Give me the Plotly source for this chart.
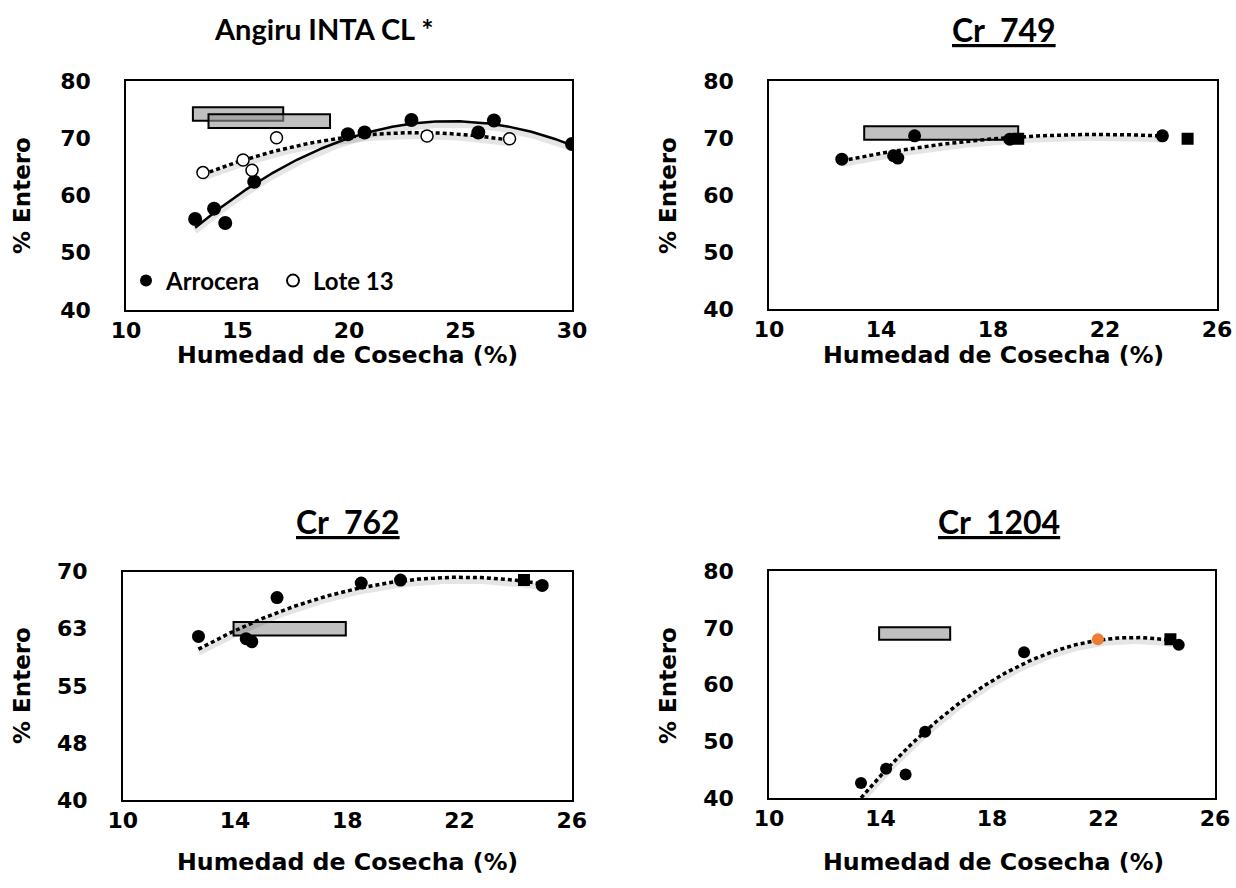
import numpy as np
import plotly.graph_objects as go

# ---------------- data ----------------
# Panel 1: Angiru INTA CL *
ang_arrocera_x = [13.1, 13.95, 14.45, 15.75, 19.95, 20.7, 22.8, 25.8, 26.5, 30.0]
ang_arrocera_y = [55.9, 57.7, 55.2, 62.4, 70.7, 71.0, 73.2, 71.0, 73.1, 69.0]
ang_lote_x = [13.45, 15.25, 15.65, 16.75, 23.5, 27.2]
ang_lote_y = [64.0, 66.2, 64.4, 70.1, 70.4, 69.9]
ang_bar_x0 = [13.0, 13.7]
ang_bar_x1 = [17.05, 19.15]
ang_bar_y0 = [73.05, 71.8]
ang_bar_y1 = [75.4, 74.2]

# Panel 2: Cr 749
c749_x = [12.6, 14.45, 14.6, 15.2, 18.6, 24.05]
c749_y = [66.3, 66.9, 66.5, 70.4, 69.8, 70.4]
c749_sq_x = [18.9, 24.95]
c749_sq_y = [69.9, 69.9]
c749_bar_x0 = [13.4]
c749_bar_x1 = [18.9]
c749_bar_y0 = [69.7]
c749_bar_y1 = [72.05]

# Panel 3: Cr 762
c762_x = [12.7, 14.4, 14.6, 15.5, 18.5, 19.9, 24.95]
c762_y = [61.5, 61.2, 60.8, 66.6, 68.5, 68.9, 68.2]
c762_sq_x = [24.3]
c762_sq_y = [68.9]
c762_bar_x0 = [13.95]
c762_bar_x1 = [17.95]
c762_bar_y0 = [61.6]
c762_bar_y1 = [63.4]

# Panel 4: Cr 1204
c1204_x = [13.3, 14.2, 14.9, 15.6, 19.15, 24.7]
c1204_y = [42.7, 45.2, 44.2, 51.7, 65.7, 67.0]
c1204_or_x = [21.8]
c1204_or_y = [68.0]
c1204_sq_x = [24.4]
c1204_sq_y = [68.0]
c1204_bar_x0 = [13.95]
c1204_bar_x1 = [16.5]
c1204_bar_y0 = [67.9]
c1204_bar_y1 = [70.1]

# axes
x_ticks_1 = [10, 15, 20, 25, 30]
x_ticks_2 = [10, 14, 18, 22, 26]
y_ticks_a = [40, 50, 60, 70, 80]
y_ticks_762 = [40, 47.5, 55, 62.5, 70]
y_text_762 = ["40", "48", "55", "63", "70"]

SP = "\u00a0\u00a0"
titles = ["<b>Angiru INTA CL *</b>", f"<b><u>Cr{SP}749</u></b>",
          f"<b><u>Cr{SP}762</u></b>", f"<b><u>Cr{SP}1204</u></b>"]
title_sizes = [29, 32, 32, 32]
x_title = "<b>Humedad de Cosecha (%)</b>"
y_title = "<b>% Entero</b>"

# ---------------- figure ----------------
W, H = 1236, 888
fig = go.Figure()

AX_FONT = "DejaVu Sans"
TITLE_FONT = "Lato"
DOT = "4px,3px"
SHADOW = "rgba(0,0,0,0.10)"


def trend(xs, ys, n=200):
    c = np.polyfit(xs, ys, 2)
    xx = np.linspace(min(xs), max(xs), n)
    return xx, np.polyval(c, xx)


def add_bars(x0, x1, y0, y1, xa, ya):
    fig.add_trace(go.Bar(
        orientation="h",
        base=x0,
        x=[b - a for a, b in zip(x0, x1)],
        y=[(a + b) / 2 for a, b in zip(y0, y1)],
        width=[b - a for a, b in zip(y0, y1)],
        marker=dict(color="rgba(150,150,150,0.6)", line=dict(color="black", width=2)),
        xaxis=xa, yaxis=ya, showlegend=False, hoverinfo="skip"))


def trend_line(xs, ys, xa, ya, dash=DOT, width=3.5, drop=0.6):
    xx, yy = trend(xs, ys)
    # soft shadow below the trend line
    fig.add_trace(go.Scatter(x=xx, y=yy - drop, mode="lines",
                             line=dict(color=SHADOW, width=6),
                             xaxis=xa, yaxis=ya, showlegend=False, hoverinfo="skip"))
    fig.add_trace(go.Scatter(x=xx, y=yy, mode="lines",
                             line=dict(color="black", width=width, dash=dash),
                             xaxis=xa, yaxis=ya, showlegend=False, hoverinfo="skip"))


# Panel 1
trend_line(ang_arrocera_x, ang_arrocera_y, "x", "y", dash="solid", width=2.5)
trend_line(ang_lote_x, ang_lote_y, "x", "y")
fig.add_trace(go.Scatter(x=ang_arrocera_x, y=ang_arrocera_y, mode="markers", name="Arrocera",
                         marker=dict(color="black", size=14), xaxis="x", yaxis="y"))
fig.add_trace(go.Scatter(x=ang_lote_x, y=ang_lote_y, mode="markers", name="Lote 13",
                         marker=dict(color="white", size=12, line=dict(color="black", width=1.5)),
                         xaxis="x", yaxis="y"))
add_bars(ang_bar_x0, ang_bar_x1, ang_bar_y0, ang_bar_y1, "x", "y")

# Panel 2
trend_line(c749_x, c749_y, "x2", "y2")
fig.add_trace(go.Scatter(x=c749_x, y=c749_y, mode="markers", marker=dict(color="black", size=13),
                         xaxis="x2", yaxis="y2", showlegend=False))
fig.add_trace(go.Scatter(x=c749_sq_x, y=c749_sq_y, mode="markers",
                         marker=dict(color="black", size=12, symbol="square"),
                         xaxis="x2", yaxis="y2", showlegend=False))
add_bars(c749_bar_x0, c749_bar_x1, c749_bar_y0, c749_bar_y1, "x2", "y2")

# Panel 3
trend_line(c762_x, c762_y, "x3", "y3", drop=0.45)
fig.add_trace(go.Scatter(x=c762_x, y=c762_y, mode="markers", marker=dict(color="black", size=13),
                         xaxis="x3", yaxis="y3", showlegend=False))
fig.add_trace(go.Scatter(x=c762_sq_x, y=c762_sq_y, mode="markers",
                         marker=dict(color="black", size=12, symbol="square"),
                         xaxis="x3", yaxis="y3", showlegend=False))
add_bars(c762_bar_x0, c762_bar_x1, c762_bar_y0, c762_bar_y1, "x3", "y3")

# Panel 4
trend_line(c1204_x + c1204_or_x, c1204_y + c1204_or_y, "x4", "y4")
fig.add_trace(go.Scatter(x=c1204_x, y=c1204_y, mode="markers", marker=dict(color="black", size=12),
                         xaxis="x4", yaxis="y4", showlegend=False))
fig.add_trace(go.Scatter(x=c1204_or_x, y=c1204_or_y, mode="markers", marker=dict(color="#ED7D31", size=12),
                         xaxis="x4", yaxis="y4", showlegend=False))
fig.add_trace(go.Scatter(x=c1204_sq_x, y=c1204_sq_y, mode="markers",
                         marker=dict(color="black", size=12, symbol="square"),
                         xaxis="x4", yaxis="y4", showlegend=False))
add_bars(c1204_bar_x0, c1204_bar_x1, c1204_bar_y0, c1204_bar_y1, "x4", "y4")


def px_x(a, b):
    return [a / W, b / W]


def px_y(top, bottom):
    return [1 - bottom / H, 1 - top / H]


boxes = {
    1: (px_x(126, 572), px_y(81, 310)),
    2: (px_x(769, 1217), px_y(81, 309.3)),
    3: (px_x(122.7, 571.7), px_y(571.7, 800)),
    4: (px_x(769, 1215), px_y(571, 798.3)),
}

tickfont = dict(family=AX_FONT, size=22, color="black", weight="bold")


def xaxis(i, ticks, rng):
    return dict(domain=boxes[i][0], range=rng, tickvals=ticks, showgrid=False, zeroline=False,
                showline=True, linecolor="black", linewidth=1.5, mirror=True, ticks="",
                tickfont=tickfont, ticklabelstandoff=0, anchor="y" if i == 1 else f"y{i}",
                automargin=False, fixedrange=True)


def yaxis(i, ticks, rng, text=None):
    d = dict(domain=boxes[i][1], range=rng, tickvals=ticks, showgrid=False, zeroline=False,
             showline=True, linecolor="black", linewidth=1.5, mirror=True, ticks="",
             tickfont=tickfont, ticklabelstandoff=29, anchor="x" if i == 1 else f"x{i}",
             automargin=False, fixedrange=True)
    if text is not None:
        d["ticktext"] = text
    return d


fig.update_layout(
    width=W, height=H,
    margin=dict(l=0, r=0, t=0, b=0, autoexpand=False),
    plot_bgcolor="white", paper_bgcolor="white",
    barmode="overlay",
    xaxis=xaxis(1, x_ticks_1, [10, 30]),
    yaxis=yaxis(1, y_ticks_a, [40, 80]),
    xaxis2=xaxis(2, x_ticks_2, [10, 26]),
    yaxis2=yaxis(2, y_ticks_a, [40, 80]),
    xaxis3=xaxis(3, x_ticks_2, [10, 26]),
    yaxis3=yaxis(3, y_ticks_762, [40, 70], y_text_762),
    xaxis4=xaxis(4, x_ticks_2, [10, 26]),
    yaxis4=yaxis(4, y_ticks_a, [40, 80]),
    legend=dict(x=126 / W, y=1 - 281 / H, xanchor="left", yanchor="middle", orientation="h",
                font=dict(family=TITLE_FONT, size=24, color="black", weight="bold"),
                bgcolor="rgba(0,0,0,0)",
                itemsizing="constant", entrywidth=102, entrywidthmode="pixels"),
    showlegend=True,
)

# Titles
title_pos = [(324, 29), (1004, 30), (348, 521), (999, 521)]
for t, s, (cx, cy) in zip(titles, title_sizes, title_pos):
    fig.add_annotation(text=t, x=cx / W, y=1 - cy / H, xref="paper", yref="paper",
                       showarrow=False, xanchor="center", yanchor="middle",
                       font=dict(family=TITLE_FONT, size=s, color="black"))

# Axis titles
for cx, cy in [(347, 355), (993, 355), (347, 862), (993, 862)]:
    fig.add_annotation(text=x_title, x=cx / W, y=1 - cy / H, xref="paper", yref="paper",
                       showarrow=False, xanchor="center", yanchor="middle",
                       font=dict(family=AX_FONT, size=23.7, color="black"))
for cx, cy in [(22, 196), (668, 196), (22, 686), (668, 686)]:
    fig.add_annotation(text=y_title, x=cx / W, y=1 - cy / H, xref="paper", yref="paper",
                       showarrow=False, xanchor="center", yanchor="middle", textangle=-90,
                       font=dict(family=AX_FONT, size=23, color="black"))

fig.write_html("out.html", config={"displayModeBar": False},
               post_script="document.body.style.margin='0px';")
